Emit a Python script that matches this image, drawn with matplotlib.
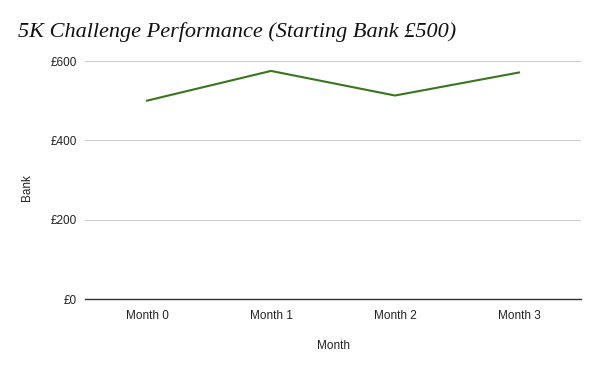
import matplotlib
matplotlib.use("Agg")
import matplotlib.pyplot as plt
import matplotlib.ticker as mticker

# values
months = ["Month 0", "Month 1", "Month 2", "Month 3"]
bank = [500, 575, 513, 571]
y_ticks = [0, 200, 400, 600]

plt.rcParams['font.family'] = ['Liberation Sans', 'DejaVu Sans']

fig = plt.figure(figsize=(6, 3.71), dpi=100)
ax = fig.add_axes([85 / 600, 1 - 299 / 371, 496 / 600, 238 / 371])

x = list(range(len(months)))
ax.plot(x, bank, color="#38761d", linewidth=1.5, zorder=3)

ax.set_xlim(-0.5, len(months) - 0.5)
ax.set_ylim(0, 600)
ax.set_xticks(x)
ax.set_xticklabels(months)
ax.set_yticks(y_ticks)
ax.yaxis.set_major_formatter(mticker.FuncFormatter(lambda v, p: "£%d" % v))

ax.grid(axis="y", color="#cccccc", linewidth=0.8)
ax.set_axisbelow(True)
for side in ["top", "right", "left"]:
    ax.spines[side].set_visible(False)
ax.spines["bottom"].set_color("#333333")
ax.spines["bottom"].set_linewidth(1.0)
ax.tick_params(axis="both", length=0, labelsize=8.5, colors="#222222")
ax.tick_params(axis="x", pad=8)
ax.tick_params(axis="y", pad=6)

ax.set_xlabel("Month", fontsize=8.5, color="#222222", labelpad=13)
ax.set_ylabel("Bank", fontsize=8.5, color="#222222")
ax.yaxis.set_label_coords(-0.105, 0.47)

fig.text(18 / 600, 1 - 32 / 371, "5K Challenge Performance (Starting Bank £500)",
         fontsize=16, style="italic", family=["Liberation Serif", "DejaVu Serif"],
         color="#111111", va="center", ha="left")

fig.savefig("out.png", dpi=100)
